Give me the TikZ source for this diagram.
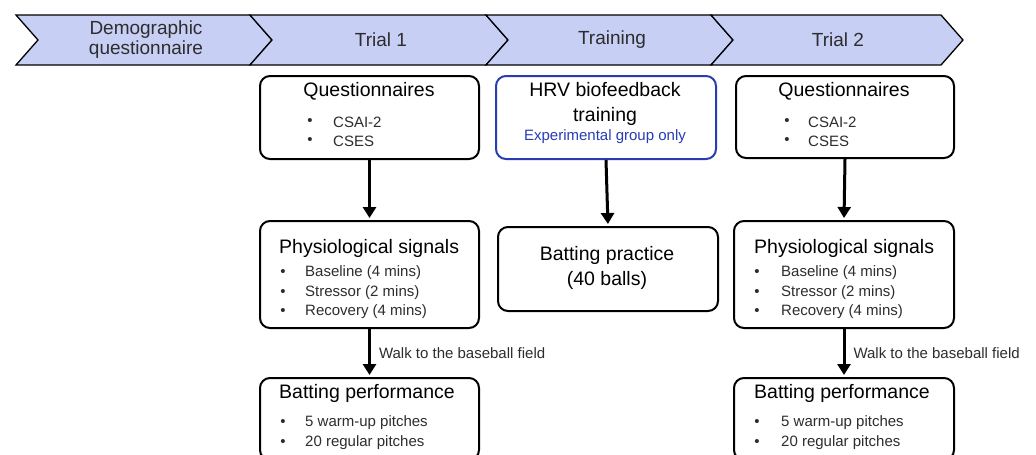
\documentclass[tikz,border=0pt]{standalone}
\usepackage{fontspec}
\setmainfont{Liberation Sans}
\usetikzlibrary{arrows.meta}
\definecolor{band}{RGB}{200,207,245}
\definecolor{hrvblue}{RGB}{40,60,180}
\definecolor{txt}{RGB}{45,45,45}
\begin{document}
\begin{tikzpicture}[x=1pt,y=-1pt,
  box/.style={draw,line width=2pt,rounded corners=10pt,anchor=north west,inner sep=0pt},
  chev/.style={draw,line width=1.3pt,fill=band,line join=miter},
  head/.style={font=\fontsize{19}{20}\selectfont,align=center,text=txt},
  title/.style={font=\fontsize{19.5}{25}\selectfont,text=black,align=center},
  item/.style={font=\fontsize{15}{19}\selectfont,text=txt,anchor=west,inner sep=0pt},
  dot/.style={font=\fontsize{15}{19}\selectfont,text=txt,inner sep=0pt},
  flow/.style={line width=3pt,-{Triangle[width=13pt,length=11pt]},shorten >=2pt}]
\useasboundingbox (0,0) rectangle (1036,455);
\clip (0,0) rectangle (1036,455);
\fill[white] (0,0) rectangle (1036,455);

% header chevrons
\foreach \a/\b in {16/250,250/486,486/711,711/941}{
  \draw[chev] (\a,15) -- (\b,15) -- (\b+22,40) -- (\b,65) -- (\a,65) -- (\a+22,40) -- cycle;
}
\node[head] (h0) at (146,40) {Demographic\\questionnaire};
\node[head] (h1) at (381,40) {Trial 1};
\node[head] (h2) at (612,40) {Training};
\node[head] (h3) at (838,40) {Trial 2};

% boxes
\node[box,minimum width=219pt,minimum height=83pt] (q1) at (259,75) {};
\node[box,draw=hrvblue,minimum width=220pt,minimum height=83pt] (hrv) at (495,75) {};
\node[box,minimum width=218pt,minimum height=82pt] (q2) at (735,75) {};
\node[box,minimum width=219pt,minimum height=107pt] (p1) at (259,220) {};
\node[box,minimum width=220pt,minimum height=84pt] (bp) at (497,226) {};
\node[box,minimum width=220pt,minimum height=107pt] (p2) at (733,220) {};
\node[box,minimum width=219pt,minimum height=82pt] (b1) at (259,377) {};
\node[box,minimum width=220pt,minimum height=82pt] (b2) at (733,377) {};

% Questionnaires (Trial 1)
\node[title] (q1t) at (369,91) {Questionnaires};
\node[dot] (q1d1) at (310,122) {•};
\node[item] (q1i1) at (333,122) {CSAI-2};
\node[dot] (q1d2) at (310,141) {•};
\node[item] (q1i2) at (333,141) {CSES};

% HRV
\node[title] (hrvt) at (605,104) {HRV biofeedback\\training};
\node[item,anchor=center,text=hrvblue] (hrvs) at (605,137) {Experimental group only};

% Questionnaires (Trial 2)
\node[title] (q2t) at (844,91) {Questionnaires};
\node[dot] (q2d1) at (787,122) {•};
\node[item] (q2i1) at (808,122) {CSAI-2};
\node[dot] (q2d2) at (787,141) {•};
\node[item] (q2i2) at (808,141) {CSES};

% Physiological (Trial 1)
\node[title,anchor=west,inner sep=0pt] (p1t) at (279,248) {Physiological signals};
\node[dot] (p1d1) at (283,273) {•};
\node[item] (p1i1) at (305,273) {Baseline (4 mins)};
\node[dot] (p1d2) at (283,293) {•};
\node[item] (p1i2) at (305,293) {Stressor (2 mins)};
\node[dot] (p1d3) at (283,312) {•};
\node[item] (p1i3) at (305,312) {Recovery (4 mins)};

% Batting practice
\node[title] (bpt) at (607,268) {Batting practice\\(40 balls)};

% Physiological (Trial 2)
\node[title,anchor=west,inner sep=0pt] (p2t) at (754,248) {Physiological signals};
\node[dot] (p2d1) at (757,273) {•};
\node[item] (p2i1) at (781,273) {Baseline (4 mins)};
\node[dot] (p2d2) at (757,293) {•};
\node[item] (p2i2) at (781,293) {Stressor (2 mins)};
\node[dot] (p2d3) at (757,312) {•};
\node[item] (p2i3) at (781,312) {Recovery (4 mins)};

% Batting performance (Trial 1)
\node[title,anchor=west,inner sep=0pt] (b1t) at (279,393) {Batting performance};
\node[dot] (b1d1) at (283,423) {•};
\node[item] (b1i1) at (305,423) {5 warm-up pitches};
\node[dot] (b1d2) at (283,443) {•};
\node[item] (b1i2) at (305,443) {20 regular pitches};

% Batting performance (Trial 2)
\node[title,anchor=west,inner sep=0pt] (b2t) at (754,393) {Batting performance};
\node[dot] (b2d1) at (757,423) {•};
\node[item] (b2i1) at (781,423) {5 warm-up pitches};
\node[dot] (b2d2) at (757,443) {•};
\node[item] (b2i2) at (781,443) {20 regular pitches};

% connectors
\draw[flow] (q1.south) -- (p1.north);
\draw[flow] (hrv.south) -- (bp.north);
\draw[flow] (q2.south) -- (p2.north);
\draw[flow] (p1.south) -- node[item,right=8pt] (w1) {Walk to the baseball field} (b1.north);
\draw[flow] (p2.south) -- node[item,right=8pt] (w2) {Walk to the baseball field} (b2.north);
\end{tikzpicture}
\end{document}
